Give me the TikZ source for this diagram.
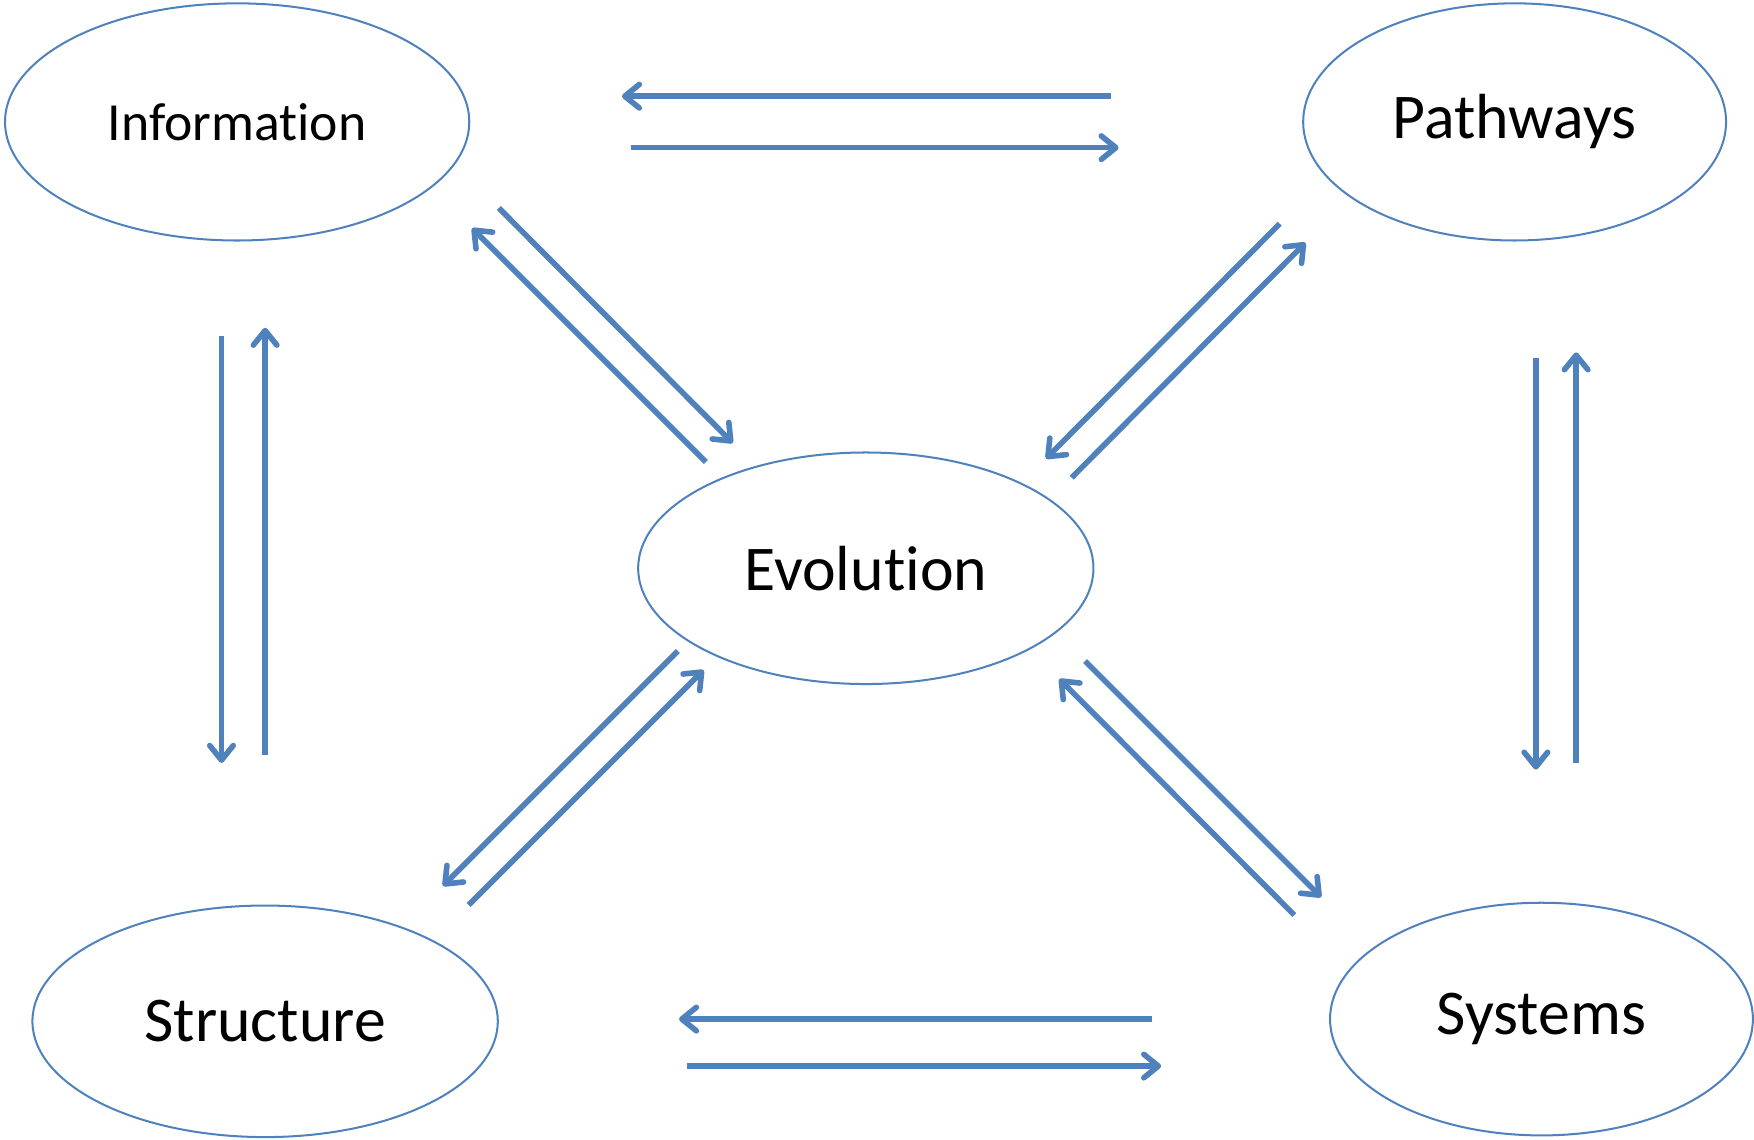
\documentclass[tikz,border=0pt]{standalone}
\usepackage{fontspec}
\setmainfont{Carlito}[Ligatures=NoCommon]
\usetikzlibrary{shapes.geometric,arrows.meta}
\definecolor{oblue}{HTML}{4F81BD}
\tikzset{
  topic/.style={ellipse,draw=oblue,line width=1.8pt,inner sep=0pt,font=\fontsize{57}{62}\selectfont},
  flow/.style={draw=oblue,line width=5pt,-{Straight Barb[length=13pt,width=21pt,round]}}
}
\begin{document}
\begin{tikzpicture}[x=1pt,y=-1pt]
\useasboundingbox (0,0) rectangle (1568,1019);
\node[topic,minimum width=415pt,minimum height=212pt,font=\fontsize{48}{53}\selectfont] (info) at (212,109) {Information};
\node[topic,minimum width=378pt,minimum height=212pt] (path) at (1354,109) {Pathways};
\node[topic,minimum width=407pt,minimum height=207pt] (evo) at (774,508) {Evolution};
\node[topic,minimum width=416pt,minimum height=207pt] (struc) at (237,913) {Structure};
\node[topic,minimum width=378pt,minimum height=208pt] (sys) at (1378,911) {Systems};
% top pair
\coordinate (t1a) at (993,86);  \coordinate (t1b) at (556,86);
\coordinate (t2a) at (564,132); \coordinate (t2b) at (1000,132);
% bottom pair
\coordinate (b1a) at (1030,911); \coordinate (b1b) at (607,911);
\coordinate (b2a) at (614,953);  \coordinate (b2b) at (1038,953);
% left vertical
\coordinate (l1a) at (198,300); \coordinate (l1b) at (198,682);
\coordinate (l2a) at (237,675); \coordinate (l2b) at (237,293);
% right vertical
\coordinate (r1a) at (1373,320); \coordinate (r1b) at (1373,688);
\coordinate (r2a) at (1409,682); \coordinate (r2b) at (1409,315);
% info - evo
\coordinate (ie1a) at (446,186); \coordinate (ie1b) at (655,396);
\coordinate (ie2a) at (631,413); \coordinate (ie2b) at (422,204);
% pathways - evo
\coordinate (pe1a) at (1144,200); \coordinate (pe1b) at (935,410);
\coordinate (pe2a) at (958,427);  \coordinate (pe2b) at (1167,217);
% structure - evo
\coordinate (se1a) at (606,582); \coordinate (se1b) at (396,792);
\coordinate (se2a) at (419,809); \coordinate (se2b) at (629,599);
% systems - evo
\coordinate (ye1a) at (970,591);  \coordinate (ye1b) at (1181,802);
\coordinate (ye2a) at (1157,818); \coordinate (ye2b) at (947,607);
\foreach \p in {t1,t2,b1,b2,l1,l2,r1,r2,ie1,ie2,pe1,pe2,se1,se2,ye1,ye2}
  \draw[flow] (\p a) -- (\p b);
\end{tikzpicture}
\end{document}
